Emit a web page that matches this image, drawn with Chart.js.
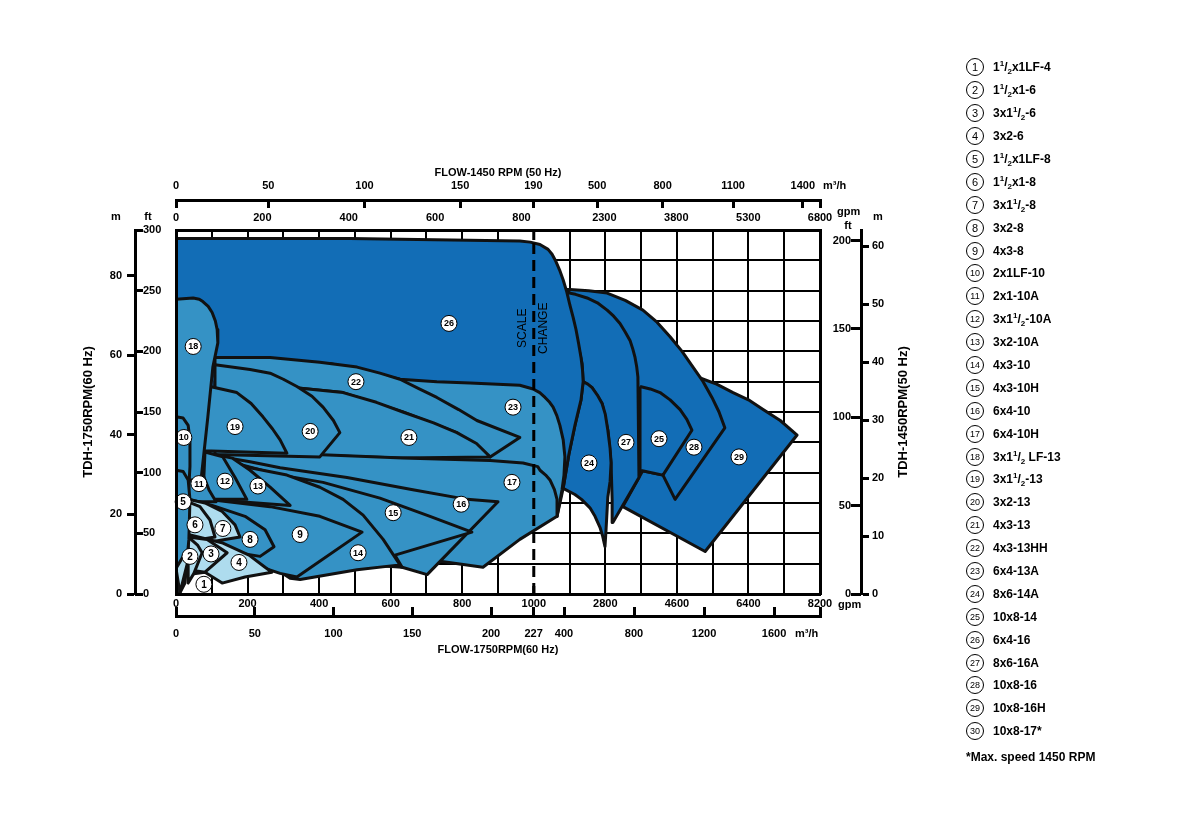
<!DOCTYPE html>
<html>
<head>
<meta charset="utf-8">
<script src="https://cdn.jsdelivr.net/npm/chart.js@4.4.0/dist/chart.umd.min.js"></script>
<style>
  html, body { margin: 0; padding: 0; background: #fff; }
  #wrap { position: relative; width: 1181px; height: 827px; }
  #chart { position: absolute; left: 0; top: 0; }
  #legend { position: absolute; left: 966px; top: 56px; font-family: 'Liberation Sans', Arial, sans-serif; color: #000; }
  .row { height: 22.9px; display: flex; align-items: center; font-weight: bold; font-size: 12px; white-space: nowrap; }
  .num { width: 18px; height: 18px; border: 1px solid #000; border-radius: 50%; box-sizing: border-box;
         font-size: 11px; font-weight: normal; display: flex; align-items: center; justify-content: center; margin-right: 9px; }
  .num.two { font-size: 9px; }
  .row sup, .row sub { font-size: 8px; line-height: 0; }
  #note { position: absolute; left: 0; top: 694px; font-weight: bold; font-size: 12px; white-space: nowrap; }
</style>
</head>
<body>
<div id="wrap">
  <canvas id="chart" width="1181" height="827"></canvas>
  <div id="legend"></div>
</div>
<script>
// tick labels
const bottomGpmLabels = [0, 200, 400, 600, 800, 1000, 2800, 4600, 6400, 8200];
const bottomM3hLabels = [0, 50, 100, 150, 200, 227, 400, 800, 1200, 1600];
const topGpmLabels = [0, 200, 400, 600, 800, 2300, 3800, 5300, 6800];
const topM3hLabels = [0, 50, 100, 150, 190, 500, 800, 1100, 1400];
const topM3hAt = [0, 258, 527, 794, 999, 2593, 4240, 6013, 7768]; // gpm @1750 where each label sits
const leftMTicks = [0, 20, 40, 60, 80];
const rightFtTicks = [0, 50, 100, 150, 200];
const rightMTicks = [0, 10, 20, 30, 40, 50, 60];

const GPM_PER_M3H = 4.403;
const FT_PER_M = 3.2808;
const SPEED = 1450 / 1750;
const MAX_GPM = 8200;

// pump coverage areas, [gpm, ft] at 1750 rpm
const shape1  = [[0,21],[22,32],[34,28],[11,1]];
const shape2  = [[34,47],[61,40],[73,34],[50,17],[34,9]];
const shape3  = [[34,47],[87,45],[143,34],[81,18],[34,20]];
const shape4  = [[34,49],[131,42],[204,32],[249,22],[268,18],[193,14],[129,9],[81,18],[34,16]];
const shape5  = [[0,102],[20,101],[34,94],[39,78],[36,45],[25,9],[11,1],[0,1]];
const shape6  = [[34,76],[67,72],[95,61],[109,47],[67,45],[34,45]];
const shape7  = [[34,78],[81,75],[129,68],[165,57],[179,47],[137,45],[39,40]];
const shape8  = [[39,78],[101,73],[193,64],[249,53],[274,39],[235,31],[151,35],[39,40]];
const shape9  = [[87,78],[263,72],[402,64],[520,51],[338,14],[291,17],[179,28],[87,45]];
const shape10 = [[0,146],[20,145],[34,139],[39,127],[39,105],[34,78],[0,78]];
const shape11 = [[34,119],[73,100],[92,86],[112,76],[34,76]];
const shape12 = [[81,117],[131,113],[165,96],[198,78],[75,78]];
const shape13 = [[109,115],[157,112],[207,102],[263,88],[319,73],[87,78]];
const shape14 = [[151,109],[207,104],[310,98],[402,88],[467,78],[523,65],[579,45],[626,24],[506,20],[347,12],[319,13],[151,45]];
const shape15 = [[151,109],[291,98],[411,92],[570,79],[710,64],[827,51],[612,32],[632,22],[347,28],[151,94]];
const shape16 = [[109,114],[207,109],[291,104],[478,96],[662,86],[813,78],[900,76],[702,16],[632,22],[486,40],[151,82]];
const shape17 = [[75,119],[305,116],[634,112],[878,110],[970,108],[1100,105],[1157,102],[1300,98],[1407,94],[1520,86],[1585,78],[1585,64],[961,45],[858,22],[738,27],[626,45],[347,61],[75,78]];
const shape18 = [[0,243],[48,244],[65,243],[75,241],[90,237],[101,232],[110,225],[115,218],[117,207],[103,187],[89,146],[78,116],[70,94],[0,94]];
const shape19 = [[95,171],[170,166],[210,157],[243,146],[270,136],[291,127],[310,116],[75,118]];
const shape20 = [[109,189],[207,185],[263,182],[300,177],[338,171],[380,163],[411,154],[440,143],[458,133],[402,113],[109,115]];
const shape21 = [[109,176],[299,171],[467,166],[560,158],[634,150],[720,141],[785,133],[840,124],[878,113],[626,112],[109,117]];
const shape22 = [[109,195],[263,195],[402,191],[506,187],[570,182],[626,177],[680,169],[729,162],[790,152],[841,143],[961,129],[878,113],[785,133],[634,150],[467,166],[299,171],[109,179]];
const shape23 = [[430,190],[626,177],[729,175],[822,174],[961,172],[998,169],[1150,166],[1283,162],[1400,158],[1486,154],[1580,147],[1657,139],[1740,127],[1783,113],[1760,98],[1711,86],[1585,64],[850,78],[430,135]];
const shape24 = [[2242,175],[2360,173],[2467,170],[2600,164],[2719,157],[2800,148],[2863,135],[2920,120],[2944,108],[2920,93],[2863,80],[2818,53],[2791,39],[2730,48],[2665,55],[2540,64],[2413,71],[2200,78],[2035,82],[1738,87],[1882,115],[2035,139],[2188,160]];
const shape25 = [[3673,171],[3930,169],[4177,166],[4430,160],[4681,152],[4850,144],[4978,135],[4249,98],[3673,102]];
const shape26 = [[0,293],[486,293],[961,291],[990,290],[1155,288],[1360,284],[1460,280],[1558,274],[1650,267],[1738,259],[1830,249],[1909,238],[1990,228],[2062,218],[2130,206],[2188,195],[2225,185],[2242,175],[2188,160],[2035,139],[1882,115],[1738,87],[1585,64],[1000,78],[0,119]];
const shape27 = [[1738,249],[2050,247],[2341,244],[2600,240],[2845,234],[3010,229],[3169,223],[3300,216],[3421,209],[3490,202],[3547,195],[3590,187],[3619,179],[3646,96],[2989,59],[2971,78],[2944,108],[2863,135],[2719,157],[2467,170],[2242,175],[2215,190],[2116,205],[1990,226],[1864,238]];
const shape28 = [[1786,251],[1909,251],[2380,250],[2845,248],[3300,242],[3745,234],[4100,224],[4429,212],[4730,200],[5005,187],[5260,175],[5482,162],[5660,150],[5806,137],[4555,78],[4249,98],[3673,102],[3169,160],[2161,242]];
const shape29 = [[5185,178],[5600,173],[6013,166],[6400,160],[6769,152],[7200,143],[7624,131],[5311,35],[3241,72],[3646,96],[4301,135],[4933,172]];

const shapes = [null, shape1, shape2, shape3, shape4, shape5, shape6, shape7, shape8, shape9, shape10,
  shape11, shape12, shape13, shape14, shape15, shape16, shape17, shape18, shape19, shape20,
  shape21, shape22, shape23, shape24, shape25, shape26, shape27, shape28, shape29];

// L = light, M = mid, D = dark blue
const shadeOf = ['L','L','L','L','M','L','L','M','M','M','M','M','M','M','M','M','M','M','M','M','M','M','M','D','D','D','D','D','D'];
// back to front
const drawOrder = [29,28,25,27,24,26,23,22,21,17,16,15,14,20,19,9,13,12,11,18,10,8,7,6,4,3,2,5,1];

// circled number positions [gpm, ft]
const labelAt = [[78,8],[39,31],[98,33],[176,26],[20,76],[53,57],[131,54],[207,45],[347,49],[22,129],
  [64,91],[137,93],[229,89],[509,34],[607,67],[797,74],[939,92],[48,204],[165,138],[375,134],
  [651,129],[503,175],[942,154],[2389,108],[4150,128],[763,223],[3320,125],[5030,121],[6162,113]];

const legendNames = ['1½x1LF-4','1½x1-6','3x1½-6','3x2-6','1½x1LF-8','1½x1-8','3x1½-8','3x2-8','4x3-8',
  '2x1LF-10','2x1-10A','3x1½-10A','3x2-10A','4x3-10','4x3-10H','6x4-10','6x4-10H','3x1½ LF-13',
  '3x1½-13','3x2-13','4x3-13','4x3-13HH','6x4-13A','8x6-14A','10x8-14','6x4-16','8x6-16A',
  '10x8-16','10x8-16H','10x8-17*'];
const footNote = '*Max. speed 1450 RPM';

const scaleChangeGpm = 1000;

const colors = { L: '#aedcee', M: '#3592c5', D: '#126db6' };

// flow axis changes scale at 1000 gpm (9x compressed above)
function axisX(gpm) {
  return gpm <= 1000 ? gpm : 1000 + (gpm - 1000) / 9;
}

const sansFamily = "'Liberation Sans', Arial, sans-serif";
const tickFont = { family: sansFamily, size: 11, weight: 'bold' };
const sideTitleFont = { family: sansFamily, size: 13, weight: 'bold' };

function buildDatasets() {
  const list = drawOrder.map(function(no, i) {
    const pts = shapes[no].concat([shapes[no][0]]);
    return {
      label: 'area ' + no,
      data: pts.map(p => ({ x: axisX(p[0]), y: p[1] })),
      borderColor: '#111',
      borderWidth: 3,
      borderJoinStyle: 'round',
      backgroundColor: colors[shadeOf[no - 1]],
      fill: 'shape',
      pointRadius: 0,
      tension: 0,
      order: drawOrder.length - i + 1
    };
  });
  list.push({
    label: 'scale change',
    data: [{ x: axisX(scaleChangeGpm), y: 0 }, { x: axisX(scaleChangeGpm), y: 292 }],
    borderColor: '#000',
    borderWidth: 3,
    borderDash: [11, 6],
    fill: false,
    pointRadius: 0,
    order: 0
  });
  return list;
}

const decorPlugin = {
  id: 'decor',
  afterDatasetsDraw(chart) {
    const ctx = chart.ctx;
    const sx = chart.scales.x, sy = chart.scales.y;
    ctx.save();
    labelAt.forEach(function(p, i) {
      const cx = sx.getPixelForValue(axisX(p[0]));
      const cy = sy.getPixelForValue(p[1]);
      ctx.beginPath();
      ctx.arc(cx, cy, 8, 0, Math.PI * 2);
      ctx.fillStyle = '#fff';
      ctx.fill();
      ctx.lineWidth = 1;
      ctx.strokeStyle = '#000';
      ctx.stroke();
      ctx.fillStyle = '#000';
      ctx.font = 'bold ' + (i >= 9 ? 9 : 10) + 'px ' + sansFamily;
      ctx.textAlign = 'center';
      ctx.textBaseline = 'middle';
      ctx.fillText(String(i + 1), cx, cy + 0.5);
    });
    // scale change note
    const xc = sx.getPixelForValue(axisX(scaleChangeGpm));
    const yc = sy.getPixelForValue(219);
    ctx.font = '12px ' + sansFamily;
    ctx.fillStyle = '#000';
    ctx.textAlign = 'center';
    ctx.textBaseline = 'middle';
    [['SCALE', -11], ['CHANGE', 10]].forEach(function(t) {
      ctx.save();
      ctx.translate(xc + t[1], yc);
      ctx.rotate(-Math.PI / 2);
      ctx.fillText(t[0], 0, 0);
      ctx.restore();
    });
    ctx.restore();
  },
  afterDraw(chart) {
    const ctx = chart.ctx;
    const a = chart.chartArea;
    const s = chart.scales;
    ctx.save();
    ctx.fillStyle = '#000';
    ctx.strokeStyle = '#000';
    // short solid marks where the dashed scale-change line meets the frame
    const xc = s.x.getPixelForValue(axisX(scaleChangeGpm));
    ctx.lineWidth = 3;
    ctx.beginPath();
    ctx.moveTo(xc, a.top); ctx.lineTo(xc, a.top + 10);
    ctx.moveTo(xc, a.bottom); ctx.lineTo(xc, a.bottom - 8);
    ctx.stroke();

    ctx.font = 'bold 11px ' + sansFamily;
    ctx.textBaseline = 'middle';
    ctx.textAlign = 'center';
    ctx.fillText('m', s.ym.right - 19, a.top - 13);
    ctx.fillText('ft', s.y.left + 5, a.top - 13);
    ctx.fillText('ft', a.right + 28, a.top - 4);
    ctx.fillText('m', s.yrm.left + 17, a.top - 13);
    ctx.textAlign = 'left';
    ctx.fillText('gpm', a.right + 17, a.top - 18);
    ctx.fillText('m³/h', a.right + 3, s.xtm.bottom - 14);
    ctx.fillText('gpm', a.right + 18, a.bottom + 11);
    ctx.fillText('m³/h', s.xm.getPixelForValue(axisX(1600 * GPM_PER_M3H)) + 21, s.xm.top + 18);
    // right title reads bottom to top
    ctx.save();
    ctx.font = 'bold 13px ' + sansFamily;
    ctx.translate(s.yrm.right + 12, (a.top + a.bottom) / 2);
    ctx.rotate(-Math.PI / 2);
    ctx.textAlign = 'center';
    ctx.fillText('TDH-1450RPM(50 Hz)', 0, 0);
    ctx.restore();
    ctx.restore();
  }
};

function fixedWidth(w) { return function(scale) { scale.width = w; }; }
function fixedHeight(h) { return function(scale) { scale.height = h; }; }

const noGrid = { drawOnChartArea: false, drawTicks: false };
const frame = { display: true, color: '#000', width: 3, z: 1 };

window.onload = function() {
  // legend
  const legend = document.getElementById('legend');
  legendNames.forEach(function(name, i) {
    const row = document.createElement('div');
    row.className = 'row';
    const num = document.createElement('span');
    num.className = 'num' + (i >= 9 ? ' two' : '');
    num.textContent = String(i + 1);
    const txt = document.createElement('span');
    txt.innerHTML = name.replace(/½/g, '<sup>1</sup>/<sub>2</sub>');
    row.appendChild(num);
    row.appendChild(txt);
    legend.appendChild(row);
  });
  const note = document.createElement('div');
  note.id = 'note';
  note.textContent = footNote;
  legend.appendChild(note);

  const endTick = axisX(MAX_GPM);
  const ctx = document.getElementById('chart').getContext('2d');
  new Chart(ctx, {
    type: 'line',
    data: { datasets: buildDatasets() },
    options: {
      responsive: false,
      animation: false,
      devicePixelRatio: 1,
      layout: { padding: { left: 75, right: 290, top: 165, bottom: 167 } },
      plugins: { legend: { display: false }, tooltip: { enabled: false } },
      scales: {
        x: {
          type: 'linear', position: 'bottom', min: 0, max: endTick, weight: 0,
          ticks: {
            stepSize: 100, autoSkip: false, maxRotation: 0, padding: 3, font: tickFont, color: '#000',
            callback: v => (v % 200 === 0 ? String(bottomGpmLabels[v / 200]) : '')
          },
          grid: {
            color: c => (c.tick && c.tick.value === axisX(scaleChangeGpm) ? 'rgba(0,0,0,0)' : '#000'),
            lineWidth: 2, drawTicks: false
          },
          border: frame,
          afterFit: fixedHeight(22)
        },
        xm: {
          type: 'linear', position: 'bottom', min: 0, max: endTick, weight: 1,
          afterBuildTicks: s => {
            s.ticks = bottomM3hLabels.map(v => ({ value: axisX(v * GPM_PER_M3H) })).concat([{ value: endTick }]);
          },
          ticks: { autoSkip: false, maxRotation: 0, padding: 20, font: tickFont, color: '#000',
                   callback: (v, i) => (i < bottomM3hLabels.length ? String(bottomM3hLabels[i]) : '') },
          grid: { drawOnChartArea: false, drawTicks: true, tickLength: -9, tickWidth: 3, tickColor: '#000' },
          border: { display: true, color: '#000', width: 3 },
          title: { display: true, text: 'FLOW-1750RPM(60 Hz)', font: tickFont, color: '#000', padding: { top: 0, bottom: 3 } },
          afterFit: fixedHeight(44)
        },
        xt: {
          type: 'linear', position: 'top', min: 0, max: endTick, weight: 0,
          afterBuildTicks: s => { s.ticks = topGpmLabels.map(v => ({ value: Math.min(endTick, axisX(v / SPEED)) })); },
          ticks: { autoSkip: false, maxRotation: 0, padding: 5, font: tickFont, color: '#000',
                   callback: (v, i) => String(topGpmLabels[i]) },
          grid: noGrid,
          border: frame,
          afterFit: fixedHeight(30)
        },
        xtm: {
          type: 'linear', position: 'top', min: 0, max: endTick, weight: 1,
          afterBuildTicks: s => { s.ticks = topM3hAt.map(g => ({ value: axisX(g) })).concat([{ value: endTick }]); },
          ticks: { autoSkip: false, maxRotation: 0, padding: 15, font: tickFont, color: '#000',
                   callback: (v, i) => (i < topM3hLabels.length ? String(topM3hLabels[i]) : '') },
          grid: { drawOnChartArea: false, drawTicks: true, tickLength: -8, tickWidth: 3, tickColor: '#000' },
          border: { display: true, color: '#000', width: 3 },
          title: { display: true, text: 'FLOW-1450 RPM (50 Hz)', font: tickFont, color: '#000', padding: { top: 1, bottom: 0 } },
          afterFit: fixedHeight(35)
        },
        y: {
          type: 'linear', position: 'left', min: 0, max: 300, weight: 0,
          ticks: { stepSize: 25, crossAlign: 'far', font: tickFont, color: '#000',
                   callback: v => (v % 50 === 0 ? String(v) : '') },
          grid: { color: '#000', lineWidth: 2, drawTicks: false },
          border: frame,
          afterFit: fixedWidth(33)
        },
        yTick: {
          type: 'linear', position: 'left', min: 0, max: 300, weight: 1,
          ticks: { stepSize: 50, display: false },
          grid: { drawOnChartArea: false, drawTicks: true, tickLength: 8, tickWidth: 3, tickColor: '#000' },
          border: { display: false },
          afterFit: fixedWidth(8)
        },
        ym: {
          type: 'linear', position: 'left', min: 0, max: 300, weight: 2,
          afterBuildTicks: s => { s.ticks = leftMTicks.map(m => ({ value: m * FT_PER_M })); },
          ticks: { padding: 5, font: tickFont, color: '#000', callback: (v, i) => String(leftMTicks[i]) },
          grid: { drawOnChartArea: false, drawTicks: true, tickLength: 8, tickWidth: 3, tickColor: '#000' },
          border: { display: true, color: '#000', width: 3 },
          title: { display: true, text: 'TDH-1750RPM(60 Hz)', font: sideTitleFont, color: '#000', padding: { top: 6, bottom: 0 } },
          afterFit: fixedWidth(60)
        },
        yr: {
          type: 'linear', position: 'right', min: 0, max: 300, weight: 0,
          afterBuildTicks: s => { s.ticks = rightFtTicks.map(f => ({ value: f / (SPEED * SPEED) })); },
          ticks: { crossAlign: 'far', font: tickFont, color: '#000', callback: (v, i) => String(rightFtTicks[i]) },
          grid: noGrid,
          border: frame,
          afterFit: fixedWidth(31)
        },
        yrTick: {
          type: 'linear', position: 'right', min: 0, max: 300, weight: 1,
          afterBuildTicks: s => { s.ticks = rightFtTicks.map(f => ({ value: f / (SPEED * SPEED) })); },
          ticks: { display: false },
          grid: { drawOnChartArea: false, drawTicks: true, tickLength: 10, tickWidth: 3, tickColor: '#000' },
          border: { display: false },
          afterFit: fixedWidth(10)
        },
        yrm: {
          type: 'linear', position: 'right', min: 0, max: 300, weight: 2,
          afterBuildTicks: s => { s.ticks = rightMTicks.map(m => ({ value: m * FT_PER_M / (SPEED * SPEED) })); },
          ticks: { padding: 3, font: tickFont, color: '#000', callback: (v, i) => String(rightMTicks[i]) },
          grid: { drawOnChartArea: false, drawTicks: true, tickLength: 8, tickWidth: 3, tickColor: '#000' },
          border: { display: true, color: '#000', width: 3 },
          afterFit: fixedWidth(30)
        }
      }
    },
    plugins: [decorPlugin]
  });
};
</script>
</body>
</html>
